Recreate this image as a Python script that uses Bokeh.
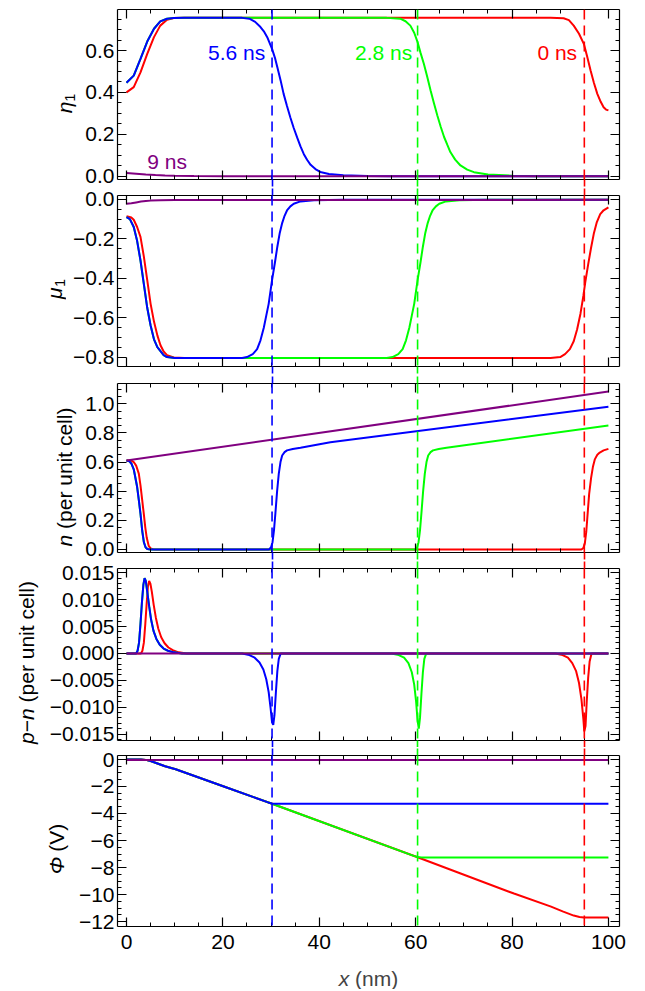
from math import pi
from bokeh.plotting import figure
from bokeh.layouts import column, row
from bokeh.models import (Range1d, LinearAxis, SingleIntervalTicker, FixedTicker, CustomJSTickFormatter,
                          Span, Label)
from bokeh.embed import file_html
from bokeh.resources import INLINE

FONT = "Liberation Sans"
RED, GREEN, BLUE, PURPLE = "#FF0000", "#00FF00", "#0000FF", "#800080"

# ---------------- data ----------------
times = ["0 ns", "2.8 ns", "5.6 ns", "9 ns"]
front_x = [95.0, 60.4, 30.2]          # dashed front positions for 0, 2.8, 5.6 ns

# eta_1
eta_x_red = [0, 1.5, 2.9, 4.3, 5.7, 7.0, 8.4, 9.8, 12, 88, 90.7, 91.8, 92.8, 93.9, 94.9, 95.6, 96.3, 97.0, 97.7, 98.4, 99.0, 99.5, 100]
eta_y_red = [0.400, 0.425, 0.496, 0.584, 0.664, 0.719, 0.747, 0.755, 0.756, 0.756, 0.754, 0.745, 0.719, 0.68, 0.632, 0.57, 0.505, 0.445, 0.393, 0.355, 0.329, 0.318, 0.314]
eta_x_green = [0, 1.5, 2.9, 4.3, 5.7, 7.0, 8.4, 9.8, 12, 54, 56.8, 57.9, 58.9, 59.7, 60.4, 61.0, 61.7, 62.4, 63.1, 63.8, 64.5, 65.2, 65.9, 66.6, 67.2, 68.2, 69.3, 70.7, 72.1, 75, 80, 85, 100]
eta_y_green = [0.446, 0.48, 0.56, 0.643, 0.704, 0.739, 0.752, 0.755, 0.756, 0.756, 0.752, 0.74, 0.719, 0.685, 0.64, 0.59, 0.537, 0.475, 0.409, 0.348, 0.29, 0.236, 0.187, 0.148, 0.115, 0.079, 0.051, 0.031, 0.019, 0.008, 0.002, 0.0, 0.0]
eta_x_blue = [0, 1.5, 2.9, 4.3, 5.7, 7.0, 8.4, 9.8, 12, 24, 25.5, 26.7, 27.8, 28.5, 29.2, 30.2, 30.8, 31.3, 32.0, 32.6, 33.3, 34.0, 34.7, 35.4, 36.1, 36.8, 37.5, 38.2, 39.2, 40.2, 42, 45, 50, 55, 100]
eta_y_blue = [0.446, 0.48, 0.56, 0.643, 0.704, 0.739, 0.752, 0.755, 0.756, 0.756, 0.752, 0.737, 0.712, 0.692, 0.664, 0.608, 0.565, 0.52, 0.455, 0.393, 0.335, 0.28, 0.23, 0.185, 0.142, 0.105, 0.077, 0.054, 0.034, 0.02, 0.01, 0.004, 0.001, 0.0, 0.0]
eta_x_purple = [0, 2, 4, 6, 8, 10, 14, 20, 100]
eta_y_purple = [0.015, 0.012, 0.008, 0.005, 0.003, 0.0015, 0.0005, 0.0, 0.0]

# mu_1
mu_x_red = [0, 1.0, 1.5, 2.2, 2.9, 3.6, 4.3, 5.0, 5.7, 6.4, 7.05, 7.7, 8.4, 9.8, 12, 88, 90.0, 91.0, 92.0, 92.8, 93.5, 94.2, 94.8, 95.2, 95.8, 96.4, 97.0, 97.6, 98.3, 99.0, 100]
mu_y_red = [-0.085, -0.092, -0.103, -0.14, -0.19, -0.29, -0.41, -0.53, -0.62, -0.69, -0.74, -0.772, -0.79, -0.802, -0.805, -0.805, -0.80, -0.785, -0.76, -0.72, -0.66, -0.58, -0.49, -0.42, -0.33, -0.245, -0.17, -0.115, -0.075, -0.055, -0.04]
mu_x_green = [0, 0.7, 1.5, 2.2, 2.9, 3.6, 4.3, 5.0, 5.7, 6.4, 7.05, 7.7, 8.4, 10, 54, 55.2, 56.4, 57.3, 58.0, 58.7, 59.2, 59.7, 60.4, 61.0, 61.5, 62.0, 62.5, 63.0, 63.5, 64.2, 64.9, 66.3, 69.1, 75, 100]
mu_y_green = [-0.09, -0.10, -0.14, -0.21, -0.31, -0.43, -0.55, -0.64, -0.71, -0.75, -0.77, -0.79, -0.80, -0.805, -0.805, -0.80, -0.785, -0.76, -0.715, -0.65, -0.59, -0.53, -0.41, -0.32, -0.24, -0.17, -0.12, -0.083, -0.056, -0.035, -0.022, -0.01, -0.004, -0.002, -0.002]
mu_x_blue = [0, 0.7, 1.5, 2.2, 2.9, 3.6, 4.3, 5.0, 5.7, 6.4, 7.05, 7.7, 8.4, 10, 24, 25.0, 26.2, 27.1, 27.8, 28.5, 29.0, 29.5, 30.2, 30.8, 31.3, 31.8, 32.3, 32.8, 33.3, 34.0, 34.7, 36.1, 38.9, 45, 100]
mu_y_blue = [-0.09, -0.10, -0.14, -0.21, -0.31, -0.43, -0.55, -0.64, -0.71, -0.75, -0.77, -0.79, -0.80, -0.805, -0.805, -0.80, -0.785, -0.76, -0.715, -0.65, -0.59, -0.53, -0.41, -0.32, -0.24, -0.17, -0.12, -0.083, -0.056, -0.035, -0.022, -0.01, -0.004, -0.002, -0.002]
mu_x_purple = [0, 1, 2, 3, 4, 5, 7, 10, 100]
mu_y_purple = [-0.022, -0.019, -0.015, -0.011, -0.008, -0.006, -0.004, -0.003, -0.002]

# n (per unit cell)
n_x_red = [0, 1.0, 1.5, 2.0, 2.55, 2.9, 3.25, 3.6, 3.9, 4.2, 4.6, 5.0, 5.5, 6, 94.4, 94.8, 95.1, 95.4, 95.7, 96.0, 96.4, 96.8, 97.2, 97.7, 98.2, 99, 100]
n_y_red = [0.61, 0.61, 0.60, 0.575, 0.52, 0.44, 0.34, 0.24, 0.15, 0.08, 0.025, 0.007, 0.001, 0.0, 0.0, 0.01, 0.04, 0.12, 0.25, 0.38, 0.49, 0.57, 0.62, 0.65, 0.665, 0.68, 0.69]
n_x_green = [0, 0.6, 1.0, 1.5, 2.2, 2.55, 2.9, 3.25, 3.6, 3.95, 4.3, 5, 60.0, 60.3, 60.6, 60.9, 61.2, 61.55, 61.9, 62.25, 62.6, 63.1, 63.6, 64.8, 66.4, 100]
n_y_green = [0.61, 0.605, 0.59, 0.55, 0.43, 0.34, 0.245, 0.13, 0.05, 0.015, 0.003, 0.0, 0.0, 0.015, 0.05, 0.13, 0.25, 0.4, 0.52, 0.6, 0.645, 0.668, 0.68, 0.69, 0.698, 0.85]
n_x_blue = [0, 0.6, 1.0, 1.5, 2.2, 2.55, 2.9, 3.25, 3.6, 3.95, 4.3, 5, 29.6, 30.0, 30.3, 30.6, 30.9, 31.25, 31.6, 31.95, 32.3, 32.8, 33.3, 34.5, 36.1, 42.3, 100]
n_y_blue = [0.61, 0.605, 0.59, 0.55, 0.43, 0.34, 0.245, 0.13, 0.05, 0.015, 0.003, 0.0, 0.0, 0.015, 0.05, 0.13, 0.25, 0.4, 0.52, 0.6, 0.645, 0.668, 0.68, 0.69, 0.698, 0.736, 0.98]
n_x_purple = [0, 100]
n_y_purple = [0.61, 1.084]

# p - n (per unit cell)
pn_x_red = [0, 3.0, 3.3, 3.6, 3.9, 4.2, 4.45, 4.7, 4.95, 5.25, 5.65, 6.1, 6.6, 7.2, 7.9, 8.7, 9.6, 10.8, 12.5, 89, 90.5, 91.6, 92.5, 93.3, 93.9, 94.4, 94.8, 95.0, 95.25, 95.5, 95.8, 96.1, 96.5, 100]
pn_y_red = [0, 0, 0.0005, 0.002, 0.0055, 0.0095, 0.0125, 0.0135, 0.013, 0.0115, 0.009, 0.0066, 0.0046, 0.003, 0.0019, 0.0011, 0.0006, 0.0002, 0, 0, -0.0003, -0.0008, -0.0018, -0.0033, -0.0055, -0.0085, -0.0122, -0.0145, -0.0135, -0.009, -0.0045, -0.0015, 0, 0]
pn_x_green = [0, 2.0, 2.3, 2.6, 2.9, 3.2, 3.5, 3.75, 4.0, 4.3, 4.7, 5.1, 5.6, 6.2, 6.9, 7.7, 8.6, 9.8, 11.5, 55, 56.5, 57.6, 58.5, 59.2, 59.7, 60.1, 60.4, 60.65, 60.9, 61.2, 61.5, 61.8, 62.2, 100]
pn_y_green = [0, 0, 0.0005, 0.002, 0.0055, 0.0095, 0.0128, 0.014, 0.0135, 0.0115, 0.0088, 0.0063, 0.0042, 0.0027, 0.0016, 0.0009, 0.0005, 0.0002, 0, 0, -0.0003, -0.0008, -0.0018, -0.0035, -0.0058, -0.009, -0.0125, -0.014, -0.012, -0.0075, -0.0035, -0.001, 0, 0]
pn_x_blue = [0, 2.0, 2.3, 2.6, 2.9, 3.2, 3.5, 3.75, 4.0, 4.3, 4.7, 5.1, 5.6, 6.2, 6.9, 7.7, 8.6, 9.8, 11.5, 24, 25.5, 26.6, 27.6, 28.4, 29.0, 29.5, 29.9, 30.2, 30.45, 30.7, 31.0, 31.3, 31.6, 32.0, 100]
pn_y_blue = [0, 0, 0.0005, 0.002, 0.0055, 0.0095, 0.0128, 0.014, 0.0135, 0.0115, 0.0088, 0.0063, 0.0042, 0.0027, 0.0016, 0.0009, 0.0005, 0.0002, 0, 0, -0.0003, -0.0008, -0.0017, -0.003, -0.0048, -0.0072, -0.0102, -0.0128, -0.0133, -0.0115, -0.0072, -0.0033, -0.001, 0, 0]
pn_x_purple = [0, 100]
pn_y_purple = [0, 0]

# Phi (V)
phi_x_red = [0, 3.0, 4.0, 5.0, 6.0, 7.0, 8.0, 10.2, 20.2, 30.2, 60.4, 80.4, 88.1, 90.5, 92.8, 94.0, 94.9, 100]
phi_y_red = [0, 0, -0.03, -0.12, -0.24, -0.37, -0.5, -0.72, -2.0, -3.28, -7.24, -9.93, -10.9, -11.25, -11.56, -11.66, -11.7, -11.7]
phi_x_green = [0, 3.0, 4.0, 5.0, 6.0, 7.0, 8.0, 10.2, 20.2, 30.2, 59.6, 60.4, 61.2, 100]
phi_y_green = [0, 0, -0.03, -0.12, -0.24, -0.37, -0.5, -0.72, -2.0, -3.28, -7.14, -7.22, -7.25, -7.25]
phi_x_blue = [0, 3.0, 4.0, 5.0, 6.0, 7.0, 8.0, 10.2, 20.2, 29.4, 30.2, 31.0, 100]
phi_y_blue = [0, 0, -0.03, -0.12, -0.24, -0.37, -0.5, -0.72, -2.0, -3.18, -3.26, -3.28, -3.28]
phi_x_purple = [0, 100]
phi_y_purple = [-0.03, -0.03]

# ---------------- layout ----------------
x_range = Range1d(-1.87, 102.3)
FS = "21px"
FRAME_LEFT = 117
FRAME_W = 502
RIGHT_B = 12
DASH = "10 6"
SP = 5.8   # width of a space at 21px


def yfmt(dec):
    return CustomJSTickFormatter(code=(
        "const t = Math.abs(tick) < 1e-12 ? 0 : tick;"
        f"return t.toFixed({dec}).replace('-', '\u2212');"))


def style_axis(ax):
    ax.axis_line_color = "black"
    ax.axis_line_width = 1.2
    ax.major_tick_in = 9
    ax.major_tick_out = 0
    ax.minor_tick_in = 4
    ax.minor_tick_out = 0
    ax.major_tick_line_width = 1.2
    ax.minor_tick_line_width = 1.0
    ax.major_tick_line_color = "black"
    ax.minor_tick_line_color = "black"
    ax.major_label_text_font = FONT
    ax.major_label_text_font_size = FS
    ax.major_label_text_color = "black"


def blank_axis(ticker):
    ax = LinearAxis(ticker=ticker, formatter=CustomJSTickFormatter(code="return ''"))
    style_axis(ax)
    ax.major_label_text_font_size = "0px"
    ax.major_label_standoff = 0
    return ax


def gap_dash_axis(xf, color, length):
    # continues a dashed front marker through the gap between two panels
    ax = LinearAxis(ticker=FixedTicker(ticks=[xf], minor_ticks=[]),
                    formatter=CustomJSTickFormatter(code="return ''"))
    ax.axis_line_color = None
    ax.major_label_text_font_size = "0px"
    ax.major_label_standoff = 0
    ax.major_tick_out = 0
    ax.major_tick_in = -length
    ax.minor_tick_in = 0
    ax.minor_tick_out = 0
    ax.major_tick_line_color = color
    ax.major_tick_line_width = 1.6
    ax.major_tick_line_dash = "7 4"
    return ax


def text_fig(w, h, left=0, right=0):
    f = figure(frame_width=w, frame_height=h, x_range=Range1d(0, w), y_range=Range1d(0, h),
               output_backend="svg", toolbar_location=None, x_axis_location=None, y_axis_location=None,
               min_border_left=left, min_border_right=right, min_border_top=0, min_border_bottom=0,
               background_fill_color="white", border_fill_color="white")
    f.outline_line_color = None
    f.grid.visible = False
    return f


def rot_label(f, pieces, xc, yc):
    total = sum(pc[4] for pc in pieces)
    y = yc - total / 2
    for text, style, size, dx, w in pieces:
        f.add_layout(Label(x=xc + dx, y=y, text=text, angle=pi / 2, text_align="left",
                           text_baseline="middle", text_font=FONT, text_font_style=style,
                           text_font_size=f"{size}px", text_color="black"))
        y += w


panels = [
    dict(h=170, t=9, b=8, W=78, xc=64, yr=(-0.016, 0.796), iv=0.2, mn=4, dec=1,
         series=[(eta_x_red, eta_y_red), (eta_x_green, eta_y_green), (eta_x_blue, eta_y_blue), (eta_x_purple, eta_y_purple)],
         label=[("\u03b7", "italic", 21, 0, 11.8), ("1", "normal", 14, 5, 7.8)]),
    dict(h=171, t=8, b=8, W=66, xc=54, yr=(-0.848, 0.020), iv=0.2, mn=4, dec=1,
         series=[(mu_x_red, mu_y_red), (mu_x_green, mu_y_green), (mu_x_blue, mu_y_blue), (mu_x_purple, mu_y_purple)],
         label=[("\u03bc", "italic", 21, 0, 12.1), ("1", "normal", 14, 5, 7.8)]),
    dict(h=169, t=9, b=8, W=80, xc=64, yr=(-0.021, 1.139), iv=0.2, mn=4, dec=1,
         series=[(n_x_red, n_y_red), (n_x_green, n_y_green), (n_x_blue, n_y_blue), (n_x_purple, n_y_purple)],
         label=[("n", "italic", 21, 0, 11.7 + SP), ("(per unit cell)", "normal", 21, 0, 127.2 - SP)]),
    dict(h=172, t=8, b=7, W=44, xc=26, yr=(-0.0162, 0.0158), iv=0.005, mn=5, dec=3,
         series=[(pn_x_red, pn_y_red), (pn_x_green, pn_y_green), (pn_x_blue, pn_y_blue), (pn_x_purple, pn_y_purple)],
         label=[("p", "italic", 21, 0, 11.7), ("\u2212", "normal", 21, 0, 12.3), ("n", "italic", 21, 0, 11.7 + SP),
                ("(per unit cell)", "normal", 21, 0, 127.2 - SP)]),
    dict(h=171, t=8, b=35, W=72, xc=56, yr=(-12.37, 0.296), iv=2, mn=4, dec=0,
         series=[(phi_x_red, phi_y_red), (phi_x_green, phi_y_green), (phi_x_blue, phi_y_blue), (phi_x_purple, phi_y_purple)],
         label=[("\u03a6", "italic", 21, 0, 16.7 + SP), ("(V)", "normal", 21, 0, 33.8 - SP)]),
]

colors = [RED, GREEN, BLUE, PURPLE]
front_colors = [RED, GREEN, BLUE]
children = []
mains = []
n_pan = len(panels)
for i, cfg in enumerate(panels):
    y0, y1 = cfg["yr"]
    p = figure(frame_width=FRAME_W, frame_height=cfg["h"], x_range=x_range, y_range=Range1d(y0, y1),
               output_backend="svg", toolbar_location=None, x_axis_location=None, y_axis_location=None,
               min_border_left=FRAME_LEFT - cfg["W"], min_border_right=RIGHT_B,
               min_border_top=cfg["t"], min_border_bottom=cfg["b"],
               background_fill_color="white", border_fill_color="white")
    p.outline_line_color = None
    p.grid.visible = False

    xt = SingleIntervalTicker(interval=20, num_minor_ticks=4)
    yt = SingleIntervalTicker(interval=cfg["iv"], num_minor_ticks=cfg["mn"])

    left = LinearAxis(ticker=yt, formatter=yfmt(cfg["dec"]))
    style_axis(left)
    left.major_label_standoff = 3
    p.add_layout(left, "left")
    p.add_layout(blank_axis(yt), "right")
    p.add_layout(blank_axis(xt), "above")
    if i == n_pan - 1:
        bottom = LinearAxis(ticker=xt, formatter=yfmt(0))
        style_axis(bottom)
        bottom.major_label_standoff = 8
        p.add_layout(bottom, "below")
    else:
        p.add_layout(blank_axis(xt), "below")

    for xf, c in zip(front_x, front_colors):
        p.add_layout(Span(location=xf, dimension="height", line_color=c, line_dash=DASH, line_width=1.6))
        if i < n_pan - 1:
            p.add_layout(gap_dash_axis(xf, c, cfg["b"]), "below")
        if i > 0:
            p.add_layout(gap_dash_axis(xf, c, cfg["t"]), "above")

    for (xs, ys), c in zip(cfg["series"], colors):
        p.line(xs, ys, line_color=c, line_width=2)

    total_h = cfg["t"] + cfg["h"] + cfg["b"]
    tf = text_fig(cfg["W"], total_h)
    rot_label(tf, cfg["label"], cfg["xc"], cfg["b"] + cfg["h"] / 2)
    children.append(row(tf, p))
    mains.append(p)

# time labels in the eta panel
p1 = mains[0]
p1.add_layout(Label(x=28.8, y=0.59, text=times[2], text_color=BLUE, text_align="right", text_baseline="middle",
                    text_font=FONT, text_font_size=FS))
p1.add_layout(Label(x=59.3, y=0.59, text=times[1], text_color=GREEN, text_align="right", text_baseline="middle",
                    text_font=FONT, text_font_size=FS))
p1.add_layout(Label(x=93.5, y=0.59, text=times[0], text_color=RED, text_align="right", text_baseline="middle",
                    text_font=FONT, text_font_size=FS))
p1.add_layout(Label(x=4.3, y=0.07, text=times[3], text_color=PURPLE, text_align="left", text_baseline="middle",
                    text_font=FONT, text_font_size=FS))

# x axis title (italic x) in its own strip, frame aligned with the panels
xf_ = text_fig(FRAME_W, 28, left=FRAME_LEFT, right=RIGHT_B)
x0 = FRAME_W / 2 - (10.5 + 49.0) / 2
xf_.add_layout(Label(x=x0, y=11, text="x", text_font_style="italic", text_align="left",
                     text_baseline="middle", text_font=FONT, text_font_size=FS))
xf_.add_layout(Label(x=x0 + 10.5 + SP, y=11, text="(nm)", text_align="left",
                     text_baseline="middle", text_font=FONT, text_font_size=FS))
children.append(xf_)

layout = column(*children)
open("out.html", "w").write(file_html(layout, INLINE))
